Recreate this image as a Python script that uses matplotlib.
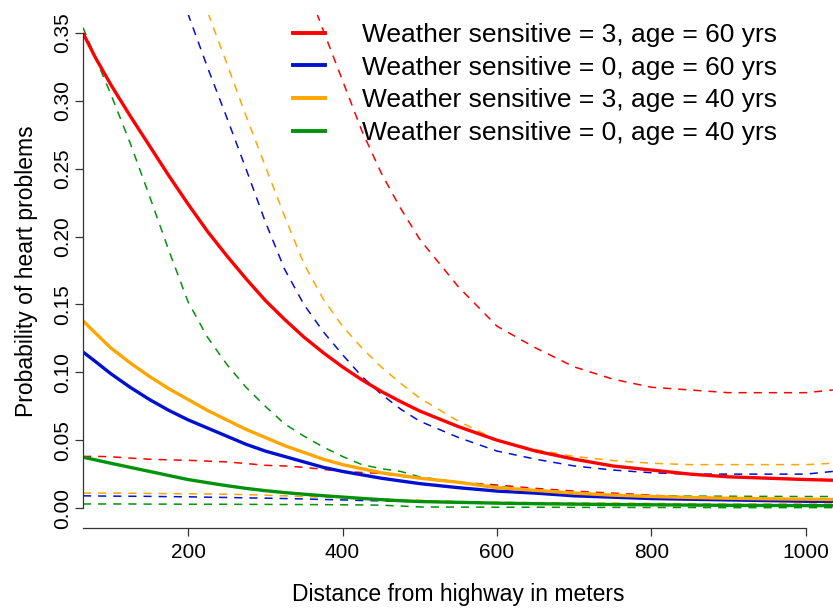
import numpy as np
import matplotlib
matplotlib.use("Agg")
import matplotlib.pyplot as plt

plt.rcParams['font.family'] = ['Liberation Sans', 'DejaVu Sans']

# distance from highway (m)
dist = [64, 80, 100, 125, 150, 175, 200, 225, 250, 275, 300, 325, 350, 375, 400,
        425, 450, 475, 500, 550, 600, 650, 700, 750, 800, 850, 900, 950, 1000, 1035]

# fitted probabilities
p_ws3_60 = [0.350, 0.332, 0.312, 0.289, 0.267, 0.245, 0.224, 0.204, 0.186, 0.169, 0.153, 0.139, 0.126, 0.1145, 0.104,
            0.0945, 0.086, 0.0785, 0.0715, 0.060, 0.050, 0.042, 0.036, 0.031, 0.028, 0.025, 0.023, 0.022, 0.021, 0.0205]
p_ws0_60 = [0.115, 0.108, 0.099, 0.089, 0.080, 0.072, 0.065, 0.059, 0.053, 0.047, 0.042, 0.038, 0.034, 0.030, 0.027,
            0.0245, 0.022, 0.020, 0.018, 0.015, 0.0125, 0.011, 0.009, 0.008, 0.007, 0.0065, 0.006, 0.0055, 0.005, 0.005]
p_ws3_40 = [0.138, 0.129, 0.118, 0.107, 0.097, 0.088, 0.080, 0.072, 0.065, 0.058, 0.052, 0.046, 0.041, 0.036, 0.032,
            0.029, 0.026, 0.024, 0.022, 0.019, 0.015, 0.013, 0.011, 0.0095, 0.0085, 0.0078, 0.0072, 0.0068, 0.0065, 0.0063]
p_ws0_40 = [0.0375, 0.0355, 0.033, 0.030, 0.027, 0.024, 0.021, 0.0187, 0.0165, 0.0145, 0.0128, 0.0114, 0.0102, 0.0091, 0.0081,
            0.0071, 0.0062, 0.0054, 0.0048, 0.0042, 0.0036, 0.0032, 0.0029, 0.0026, 0.0024, 0.0022, 0.002, 0.0019, 0.0018, 0.0018]

# upper confidence limits (None = far above the plotted range)
hi_ws3_60 = [None, None, None, None, None, None, None, None, 0.54, 0.50, 0.46, 0.425, 0.39, 0.352, 0.315,
             0.278, 0.247, 0.221, 0.198, 0.163, 0.134, 0.118, 0.104, 0.095, 0.089, 0.087, 0.085, 0.085, 0.085, 0.087]
hi_ws0_60 = [None, None, None, None, 0.44, 0.402, 0.364, 0.325, 0.288, 0.250, 0.211, 0.176, 0.150, 0.130, 0.113,
             0.097, 0.084, 0.073, 0.064, 0.052, 0.042, 0.036, 0.031, 0.028, 0.026, 0.025, 0.025, 0.025, 0.025, 0.027]
hi_ws3_40 = [None, None, None, None, None, 0.445, 0.405, 0.366, 0.328, 0.289, 0.252, 0.215, 0.180, 0.154, 0.134,
             0.118, 0.104, 0.092, 0.081, 0.064, 0.050, 0.043, 0.038, 0.035, 0.033, 0.032, 0.032, 0.032, 0.032, 0.033]
hi_ws0_40 = [0.354, 0.332, 0.305, 0.269, 0.230, 0.190, 0.152, 0.126, 0.106, 0.089, 0.075, 0.062, 0.053, 0.045, 0.038,
             0.032, 0.029, 0.027, 0.023, 0.019, 0.016, 0.013, 0.011, 0.0098, 0.009, 0.0088, 0.0087, 0.0086, 0.0085, 0.0085]

# lower confidence limits
lo_ws3_60 = [0.038, 0.0381, 0.0378, 0.0368, 0.036, 0.0355, 0.0352, 0.0346, 0.034, 0.0328, 0.0315, 0.031, 0.030, 0.0285, 0.027,
             0.0262, 0.0255, 0.0235, 0.022, 0.019, 0.017, 0.0145, 0.0125, 0.011, 0.0095, 0.008, 0.0075, 0.007, 0.0065, 0.0065]
lo_ws0_60 = [0.009, 0.0089, 0.0088, 0.0087, 0.0086, 0.0084, 0.0083, 0.008, 0.0078, 0.0075, 0.0073, 0.007, 0.0067, 0.0063, 0.006,
             0.0056, 0.0053, 0.005, 0.0046, 0.004, 0.0035, 0.003, 0.0027, 0.0025, 0.0023, 0.0022, 0.0021, 0.002, 0.002, 0.002]
lo_ws3_40 = [0.011, 0.011, 0.011, 0.0109, 0.0108, 0.0106, 0.0105, 0.0104, 0.0102, 0.0099, 0.0095, 0.009, 0.0085, 0.008, 0.0075,
             0.007, 0.0066, 0.0061, 0.0057, 0.0048, 0.0043, 0.004, 0.0038, 0.0036, 0.0034, 0.0032, 0.003, 0.003, 0.003, 0.003]
lo_ws0_40 = [0.003, 0.003, 0.003, 0.003, 0.0029, 0.0029, 0.0028, 0.0028, 0.0028, 0.0027, 0.0027, 0.0026, 0.0026, 0.0025, 0.0024,
             0.0023, 0.0021, 0.0015, 0.0008, 0.0007, 0.0006, 0.0006, 0.0005, 0.0005, 0.0004, 0.0004, 0.0003, 0.0003, 0.0003, 0.0003]

labels = ["Weather sensitive = 3, age = 60 yrs",
          "Weather sensitive = 0, age = 60 yrs",
          "Weather sensitive = 3, age = 40 yrs",
          "Weather sensitive = 0, age = 40 yrs"]
colors = ["#FF0000", "#0010D0", "#FFA500", "#00920A"]

fits = [p_ws3_60, p_ws0_60, p_ws3_40, p_ws0_40]
uppers = [hi_ws3_60, hi_ws0_60, hi_ws3_40, hi_ws0_40]
lowers = [lo_ws3_60, lo_ws0_60, lo_ws3_40, lo_ws0_40]

yticks = [0.00, 0.05, 0.10, 0.15, 0.20, 0.25, 0.30, 0.35]
xticks = [200, 400, 600, 800, 1000]

fig = plt.figure(figsize=(8.33, 6.08), dpi=100)
ax = fig.add_axes([83/833, 80/608, 750/833, 513/608])

def arr(v):
    return np.array([np.nan if a is None else a for a in v], dtype=float)

# confidence limits: thin dashed
dash = (0, (5.3, 4.6))
for c, lo, hi in zip(colors, lowers, uppers):
    ax.plot(dist, arr(hi), color=c, lw=1.1, linestyle=dash)
    ax.plot(dist, arr(lo), color=c, lw=1.1, linestyle=dash)

# fitted curves: thick solid
for c, p in zip(colors, fits):
    ax.plot(dist, p, color=c, lw=2.4, solid_capstyle='butt')

ax.set_xlim(64, 1035)
ax.set_ylim(-0.0147, 0.3633)

# R-style detached axes
ax.spines['top'].set_visible(False)
ax.spines['right'].set_visible(False)
ax.spines['left'].set_bounds(0, 0.35)
ax.spines['bottom'].set_bounds(64, 1000)
for s in ['left', 'bottom']:
    ax.spines[s].set_color('#333333')
    ax.spines[s].set_linewidth(0.9)

ax.set_xticks(xticks)
ax.set_yticks(yticks)
ax.set_yticklabels(["%.2f" % v for v in yticks], rotation=90, va='center')
ax.tick_params(axis='both', labelsize=15, length=6, width=0.9, color='#333333')
ax.tick_params(axis='x', pad=5)
ax.tick_params(axis='y', pad=2)

ax.set_xlabel("Distance from highway in meters", fontsize=16.5, labelpad=15)
ax.set_ylabel("Probability of heart problems", fontsize=16.5, labelpad=11)

leg_handles = [plt.Line2D([], [], color=c, lw=2.8) for c in colors]
fig.legend(leg_handles, labels, loc='upper left',
           bbox_to_anchor=(293/833, 1 - 23/608), frameon=False,
           fontsize=19, handlelength=1.21, handletextpad=1.4,
           labelspacing=0.33, borderpad=0, borderaxespad=0)

fig.savefig("out.png", dpi=100)
